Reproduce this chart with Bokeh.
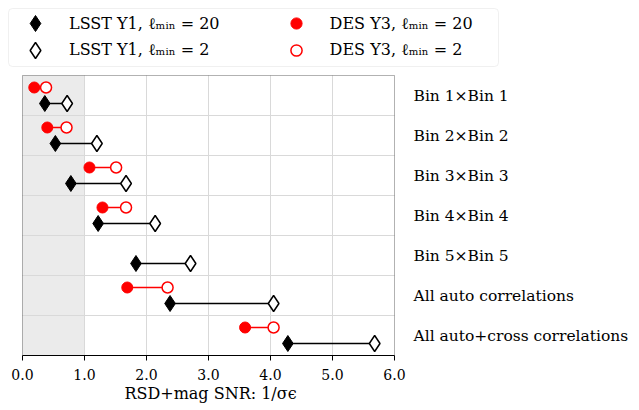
from bokeh.plotting import figure
from bokeh.models import Range1d, FixedTicker, Legend, LegendItem, BoxAnnotation, LinearAxis
from bokeh.core.properties import value
from bokeh.embed import file_html
from bokeh.resources import INLINE

# ---- data ----
row_labels = ["Bin 1×Bin 1", "Bin 2×Bin 2", "Bin 3×Bin 3", "Bin 4×Bin 4",
              "Bin 5×Bin 5", "All auto correlations", "All auto+cross correlations"]
lsst_rows = [0, 1, 2, 3, 4, 5, 6]
lsst_lmin20 = [0.36, 0.53, 0.78, 1.22, 1.83, 2.38, 4.28]
lsst_lmin2 = [0.72, 1.20, 1.67, 2.14, 2.71, 4.05, 5.68]
des_rows = [0, 1, 2, 3, 5, 6]
des_lmin20 = [0.19, 0.40, 1.08, 1.29, 1.69, 3.59]
des_lmin2 = [0.38, 0.71, 1.51, 1.67, 2.34, 4.05]
x_ticks = [0, 1, 2, 3, 4, 5, 6]
x_tick_labels = ["0.0", "1.0", "2.0", "3.0", "4.0", "5.0", "6.0"]
shade_x = [0, 1]
legend_labels = ["LSST Y1, ℓₘᵢₙ = 20", "LSST Y1, ℓₘᵢₙ = 2", "DES Y3, ℓₘᵢₙ = 20", "DES Y3, ℓₘᵢₙ = 2"]
x_label = "RSD+mag SNR: 1/σϵ"

FONT = "DejaVu Serif"
N_ROWS = len(row_labels)
X_MIN, X_MAX = x_ticks[0], x_ticks[-1]

# ---- layout (pixels) ----
W, H = 639, 410
FRAME_H = 355          # frame covers the legend strip and the plot area
BOTTOM = H - FRAME_H   # room for the x axis and its title
PLOT_L, PLOT_R = 22, 394
PLOT_T = 75
PX_PER_X = (PLOT_R - PLOT_L) / (X_MAX - X_MIN)
PX_PER_ROW = (FRAME_H - PLOT_T) / N_ROWS


def px_to_x(px):
    return X_MIN + (px - PLOT_L) / PX_PER_X


def py_to_y(py):
    return (py - PLOT_T) / PX_PER_ROW


lsst_y = [r + 0.5 + 0.2 for r in lsst_rows]
des_y = [r + 0.5 - 0.2 for r in des_rows]

p = figure(frame_width=W, frame_height=FRAME_H, output_backend="svg", toolbar_location=None,
           x_range=Range1d(px_to_x(0), px_to_x(W)), y_range=Range1d(N_ROWS, py_to_y(0)),
           y_axis_location=None, min_border=0, min_border_left=0, min_border_right=0,
           min_border_top=0, min_border_bottom=BOTTOM)
p.background_fill_color = "white"
p.border_fill_color = "white"
p.outline_line_color = None
p.grid.visible = False

# grey band and plot box
p.add_layout(BoxAnnotation(left=shade_x[0], right=shade_x[1], top=0, bottom=N_ROWS,
                           fill_color="#ebebeb", fill_alpha=1, line_alpha=0, level="image"))

# grid lines (from tick positions)
inner_x = x_ticks[1:-1]
p.segment(x0=inner_x, y0=[0] * len(inner_x), x1=inner_x, y1=[N_ROWS] * len(inner_x),
          line_color="#d9d9d9", line_width=1, level="underlay")
inner_y = list(range(1, N_ROWS))
p.segment(x0=[X_MIN] * len(inner_y), y0=inner_y, x1=[X_MAX] * len(inner_y), y1=inner_y,
          line_color="#d9d9d9", line_width=1, level="underlay")

# x axis
xa = p.xaxis[0]
xa.bounds = (X_MIN, X_MAX)
xa.ticker = FixedTicker(ticks=x_ticks)
xa.major_label_overrides = {t: l for t, l in zip(x_ticks, x_tick_labels)}
xa.minor_tick_line_color = None
xa.minor_tick_out = 0
xa.major_tick_in = 0
xa.major_tick_out = 5
xa.major_tick_line_color = "black"
xa.major_label_standoff = 8
xa.major_label_text_font = FONT
xa.major_label_text_font_size = "14px"
xa.major_label_text_color = "black"
xa.axis_line_color = "black"

# x-axis title, placed as a tick label of a bare axis centred under the plot box
title_x = px_to_x(210)
ta = LinearAxis(ticker=FixedTicker(ticks=[title_x]), major_label_overrides={title_x: x_label},
                axis_line_color=None, major_tick_line_color=None, major_tick_out=0, major_tick_in=0,
                minor_tick_line_color=None, minor_tick_out=0, minor_tick_in=0,
                major_label_standoff=1, major_label_text_font=FONT,
                major_label_text_font_size="16px", major_label_text_color="black")
p.add_layout(ta, "below")

# row labels to the right of the plot box
p.text(x=[X_MAX] * N_ROWS, y=[r + 0.5 for r in range(N_ROWS)], text=row_labels, x_offset=19,
       text_align="left", text_baseline="middle", text_font=value(FONT), text_font_size="15.5px",
       text_color="black")

# connecting lines
p.segment(x0=lsst_lmin20, y0=lsst_y, x1=lsst_lmin2, y1=lsst_y, line_color="black", line_width=1.5)
p.segment(x0=des_lmin20, y0=des_y, x1=des_lmin2, y1=des_y, line_color="red", line_width=1.5)

r1 = p.scatter(lsst_lmin20, lsst_y, marker="diamond", size=16, fill_color="black", line_color="black")
r2 = p.scatter(lsst_lmin2, lsst_y, marker="diamond", size=16, fill_color="white", line_color="black",
               line_width=1.5)
r3 = p.scatter(des_lmin20, des_y, marker="circle", size=11, fill_color="red", line_color="red")
r4 = p.scatter(des_lmin2, des_y, marker="circle", size=11, fill_color="white", line_color="red",
               line_width=1.5)

# plot box outline
p.add_layout(BoxAnnotation(left=X_MIN, right=X_MAX, top=0, bottom=N_ROWS, fill_alpha=0,
                           line_color="black", line_width=1))

# legend frame
p.add_layout(BoxAnnotation(left=px_to_x(8), right=px_to_x(498), top=py_to_y(8), bottom=py_to_y(66),
                           fill_color="white", fill_alpha=1, line_color="#cccccc", line_width=1,
                           border_radius=4))

# legend entries: (glyph box size, standoff, left px, top px)
entries = [(40, 14, 15.0, 3.3), (40, 14, 15.0, 29.5), (28, 20, 281.6, 9.3), (28, 20, 281.6, 35.5)]
for rend, lab, (gs, so, left, top) in zip([r1, r2, r3, r4], legend_labels, entries):
    p.add_layout(Legend(items=[LegendItem(label=lab, renderers=[rend])],
                        location=(left, FRAME_H - top - gs), padding=0, margin=0, spacing=0,
                        glyph_width=gs, glyph_height=gs, label_height=gs, label_standoff=so,
                        label_text_font=FONT, label_text_font_size="16px", label_text_color="black",
                        label_text_baseline="middle",
                        border_line_alpha=0, background_fill_alpha=0))

open("out.html", "w").write(file_html(p, INLINE))
